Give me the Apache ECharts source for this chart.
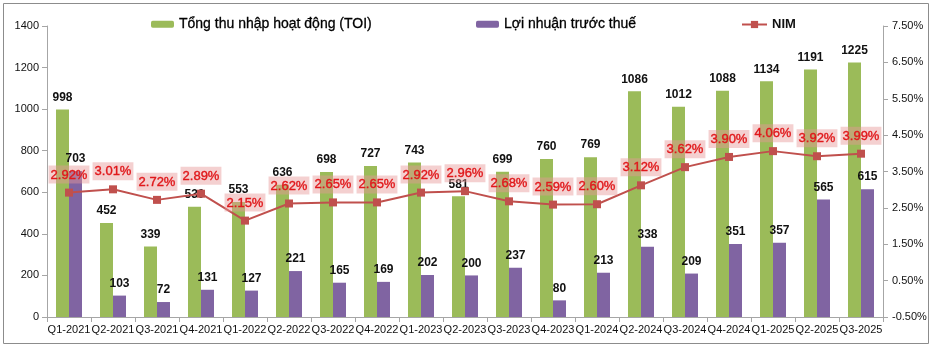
<!DOCTYPE html>
<html>
<head>
<meta charset="utf-8">
<script src="https://cdn.jsdelivr.net/npm/echarts@6/dist/echarts.min.js"></script>
<style>
  html, body { margin: 0; padding: 0; background: #fff; }
  #chart { width: 936px; height: 350px; }
</style>
</head>
<body>
<div id="chart"></div>
<script>
const quarters = ['Q1-2021', 'Q2-2021', 'Q3-2021', 'Q4-2021', 'Q1-2022', 'Q2-2022', 'Q3-2022', 'Q4-2022',
  'Q1-2023', 'Q2-2023', 'Q3-2023', 'Q4-2023', 'Q1-2024', 'Q2-2024', 'Q3-2024', 'Q4-2024',
  'Q1-2025', 'Q2-2025', 'Q3-2025'];
const toi = [998, 452, 339, 530, 553, 636, 698, 727, 743, 581, 699, 760, 769, 1086, 1012, 1088, 1134, 1191, 1225];
const pbt = [703, 103, 72, 131, 127, 221, 165, 169, 202, 200, 237, 80, 213, 338, 209, 351, 357, 565, 615];
const nim = [2.92, 3.01, 2.72, 2.89, 2.15, 2.62, 2.65, 2.65, 2.92, 2.96, 2.68, 2.59, 2.60, 3.12, 3.62, 3.90, 4.06, 3.92, 3.99];

// right axis runs from -0.50% to 7.50%; shifted by 0.5 so ticks start at 0
const NIM_SHIFT = 0.5;

const chart = echarts.init(document.getElementById('chart'));
const font = 'Liberation Sans, Arial, sans-serif';
const axisGray = '#A6A6A6';

const barLabel = {
  show: true,
  position: 'top',
  distance: 6,
  color: '#111',
  fontSize: 12,
  fontWeight: 'bold',
  fontFamily: font
};

chart.setOption({
  animation: false,
  textStyle: { fontFamily: font },
  graphic: [{
    type: 'rect',
    shape: { x: 3.5, y: 3.5, width: 925, height: 340 },
    style: { fill: 'none', stroke: '#8C8C8C', lineWidth: 1 },
    silent: true
  }],
  legend: [
    {
      data: ['Tổng thu nhập hoạt động (TOI)'],
      left: 146, top: 12,
      itemWidth: 23, itemHeight: 7, itemGap: 4,
      textStyle: { fontSize: 14, color: '#000', fontFamily: font, textBorderColor: '#000', textBorderWidth: 0.3 }
    },
    {
      data: ['Lợi nhuận trước thuế'],
      left: 471, top: 12,
      itemWidth: 23, itemHeight: 7,
      textStyle: { fontSize: 14, color: '#000', fontFamily: font, textBorderColor: '#000', textBorderWidth: 0.3 }
    },
    {
      data: ['NIM'],
      left: 736, top: 13,
      itemWidth: 25, itemHeight: 9,
      textStyle: { fontSize: 13, fontWeight: 'bold', color: '#111', fontFamily: font }
    }
  ],
  grid: { left: 47, right: 53, top: 26, bottom: 33 },
  xAxis: {
    type: 'category',
    data: quarters,
    axisLine: { lineStyle: { color: axisGray } },
    axisTick: { show: true, length: 5, lineStyle: { color: axisGray } },
    axisLabel: { color: '#111', fontSize: 11, margin: 7, interval: 0, fontFamily: font }
  },
  yAxis: [
    {
      type: 'value',
      min: 0, max: 1400, interval: 200,
      splitLine: { show: false },
      axisLine: { show: true, lineStyle: { color: axisGray } },
      axisTick: { show: true, length: 5, lineStyle: { color: axisGray } },
      axisLabel: { color: '#111', fontSize: 11, margin: 8, fontFamily: font, formatter: v => String(v) }
    },
    {
      type: 'value',
      min: 0, max: 8, interval: 1,
      position: 'right',
      splitLine: { show: false },
      axisLine: { show: true, lineStyle: { color: axisGray } },
      axisTick: { show: true, length: 5, lineStyle: { color: axisGray } },
      axisLabel: {
        color: '#111', fontSize: 11, margin: 9, fontFamily: font,
        formatter: v => (v - NIM_SHIFT).toFixed(2) + '%'
      }
    }
  ],
  series: [
    {
      name: 'Tổng thu nhập hoạt động (TOI)',
      type: 'bar',
      data: toi,
      barWidth: 13,
      barGap: '0%',
      itemStyle: { color: '#9BBB59' },
      label: barLabel,
      z: 2
    },
    {
      name: 'Lợi nhuận trước thuế',
      type: 'bar',
      data: pbt,
      barWidth: 13,
      itemStyle: { color: '#8064A2' },
      label: barLabel,
      z: 2
    },
    {
      name: 'NIM',
      type: 'line',
      yAxisIndex: 1,
      data: nim.map(v => v + NIM_SHIFT),
      symbol: 'rect',
      symbolSize: 8,
      lineStyle: { color: '#C0504D', width: 2 },
      itemStyle: { color: '#C0504D' },
      z: 5,
      label: {
        show: true,
        position: 'top',
        distance: 5,
        color: '#E0181B',
        fontSize: 13,
        fontFamily: font,
        textBorderColor: '#E0181B',
        textBorderWidth: 0.4,
        backgroundColor: 'rgba(230, 150, 150, 0.45)',
        padding: [3, 2, 2, 2],
        formatter: p => nim[p.dataIndex].toFixed(2) + '%'
      }
    }
  ]
});
</script>
</body>
</html>
